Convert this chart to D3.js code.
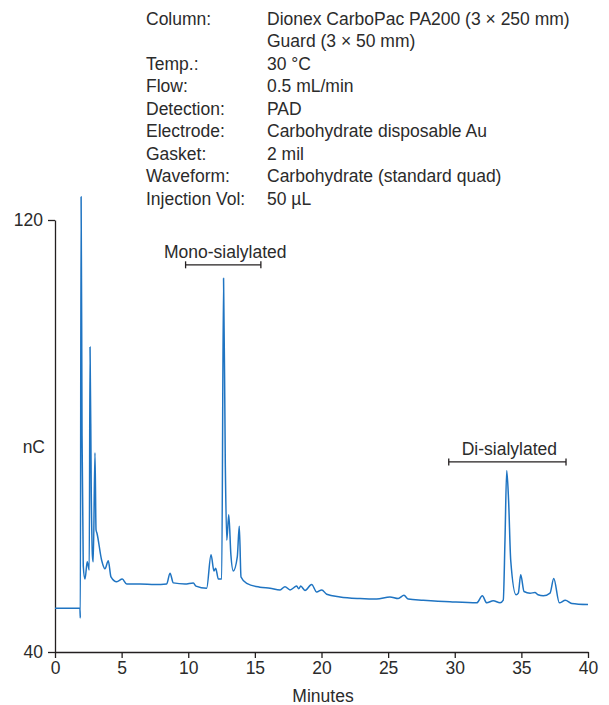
<!DOCTYPE html>
<html>
<head>
<meta charset="utf-8">
<script src="https://cdn.jsdelivr.net/npm/d3@7"></script>
<style>
  body { margin: 0; background: #fff; }
  svg text { font-family: "Liberation Sans", Arial, sans-serif; fill: #2b2b2b; }
</style>
</head>
<body>
<svg id="chart" width="609" height="705"></svg>
<script>
// chromatogram points (minutes, nC)
var minutes = [0, 1.87, 1.90, 1.96, 2.03, 2.12, 2.25, 2.42, 2.57, 2.63, 2.72, 2.81, 2.87, 3.00, 3.08, 3.15,
  3.50, 3.75, 4.00, 4.20, 4.63, 5.05, 5.38, 6.38, 7.50, 8.38, 8.63, 8.88, 9.76, 10.38, 10.58, 11.38,
  11.71, 11.93, 12.06, 12.26, 12.51, 12.65, 12.78, 12.89, 13.04, 13.20, 13.38, 13.68, 13.83, 13.96, 14.39,
  15.38, 16.14, 16.89, 17.26, 17.64, 18.14, 18.29, 18.44, 18.76, 19.26, 19.64, 20.02, 20.39, 21.39, 22.89,
  24.14, 25.14, 25.76, 26.19, 26.51, 27.64, 29.64, 31.65, 32.07, 32.40, 32.89, 33.40, 33.64, 33.77, 33.90,
  34.04, 34.20, 34.60, 34.77, 34.95, 35.20, 35.65, 36.02, 36.25, 36.65, 37.15, 37.43, 37.85, 38.30, 38.78, 40.0];
var nC = [48.1, 48.1, 46.3, 124.3, 80, 56, 53.5, 56.7, 55.2, 96.5, 70, 57.8, 56.7, 76.9, 62.6, 62.0,
  57.0, 55.4, 56.9, 53.9, 53.0, 53.5, 52.6, 52.6, 52.5, 52.6, 54.6, 52.8, 52.6, 52.8, 52.2, 51.8,
  58.0, 55.0, 55.5, 53.5, 53.5, 109.2, 75, 60.7, 65.4, 58, 55.0, 57.6, 63.3, 53.9, 52.7,
  52.0, 51.8, 51.5, 52.1, 51.5, 52.2, 51.7, 52.2, 51.4, 52.5, 51.1, 51.5, 50.7, 50.2, 49.9,
  49.8, 50.2, 49.9, 50.5, 49.8, 49.6, 49.3, 49.1, 50.4, 49.1, 49.5, 49.1, 49.6, 60.7, 73.6,
  68.1, 57.0, 50.6, 50.9, 54.3, 51.2, 50.9, 51.0, 50.6, 50.4, 50.9, 53.6, 49.1, 49.6, 49.0, 48.8];

var xTicks = [0, 5, 10, 15, 20, 25, 30, 35, 40];
var yTicks = [40, 120];

var condLabels = ["Column:", "", "Temp.:", "Flow:", "Detection:", "Electrode:", "Gasket:", "Waveform:", "Injection Vol:"];
var condValues = ["Dionex CarboPac PA200 (3 \u00d7 250 mm)", "Guard (3 \u00d7 50 mm)", "30 \u00b0C", "0.5 mL/min", "PAD",
  "Carbohydrate disposable Au", "2 mil", "Carbohydrate (standard quad)", "50 \u00b5L"];

var groupNames = ["Mono-sialylated", "Di-sialylated"];
var groupStart = [9.8, 29.55];
var groupEnd   = [15.45, 38.35];
var groupLevel = [111.7, 75.2];

var svg = d3.select('#chart');
var ink = '#231f20';

var x = d3.scaleLinear().domain([0, 40]).range([55, 588]);
var y = d3.scaleLinear().domain([40, 120]).range([652, 220]);

var pts = minutes.map(function(m, i) { return [m, nC[i]]; });

// axes
var xAxis = svg.append('g')
  .attr('transform', 'translate(0,' + y(40) + ')')
  .call(d3.axisBottom(x).tickValues(xTicks).tickSize(6).tickPadding(4).tickSizeOuter(0));
var yAxis = svg.append('g')
  .attr('transform', 'translate(' + x(0) + ',0)')
  .call(d3.axisLeft(y).tickValues(yTicks).tickSize(7).tickPadding(5).tickSizeOuter(0));

[xAxis, yAxis].forEach(function(a) {
  a.select('.domain').attr('stroke', ink).attr('stroke-width', 1.3);
  a.selectAll('.tick line').attr('stroke', ink).attr('stroke-width', 1.3);
  a.selectAll('.tick text').style('font-size', '17.5px').attr('fill', '#2b2b2b');
});

svg.append('text')
  .attr('x', 323).attr('y', 702)
  .attr('text-anchor', 'middle')
  .style('font-size', '17.5px')
  .text('Minutes');

svg.append('text')
  .attr('x', 45).attr('y', 453)
  .attr('text-anchor', 'end')
  .style('font-size', '17.5px')
  .text('nC');

// trace
svg.append('path')
  .datum(pts)
  .attr('fill', 'none')
  .attr('stroke', '#1f74c2')
  .attr('stroke-width', 1.5)
  .attr('stroke-linejoin', 'round')
  .attr('d', d3.line()
    .x(function(d) { return x(d[0]); })
    .y(function(d) { return y(d[1]); })
    .curve(d3.curveMonotoneX));

// group brackets
groupNames.forEach(function(name, i) {
  var g = svg.append('g');
  var yy = y(groupLevel[i]);
  g.append('line')
    .attr('x1', x(groupStart[i])).attr('x2', x(groupEnd[i]))
    .attr('y1', yy).attr('y2', yy)
    .attr('stroke', ink).attr('stroke-width', 1.3);
  [groupStart[i], groupEnd[i]].forEach(function(v) {
    g.append('line')
      .attr('x1', x(v)).attr('x2', x(v))
      .attr('y1', yy - 3.5).attr('y2', yy + 3.5)
      .attr('stroke', ink).attr('stroke-width', 1.3);
  });
  g.append('text')
    .attr('x', (x(groupStart[i]) + x(groupEnd[i])) / 2 + 2)
    .attr('y', yy - 7)
    .attr('text-anchor', 'middle')
    .style('font-size', '17.5px')
    .text(name);
});

// run conditions
var rows = svg.append('g');
condLabels.forEach(function(lab, i) {
  var yy = 24.5 + i * 22.5;
  rows.append('text').attr('x', 146).attr('y', yy).style('font-size', '17.5px').text(lab);
  rows.append('text').attr('x', 267).attr('y', yy).style('font-size', '17.5px').text(condValues[i]);
});
</script>
</body>
</html>
